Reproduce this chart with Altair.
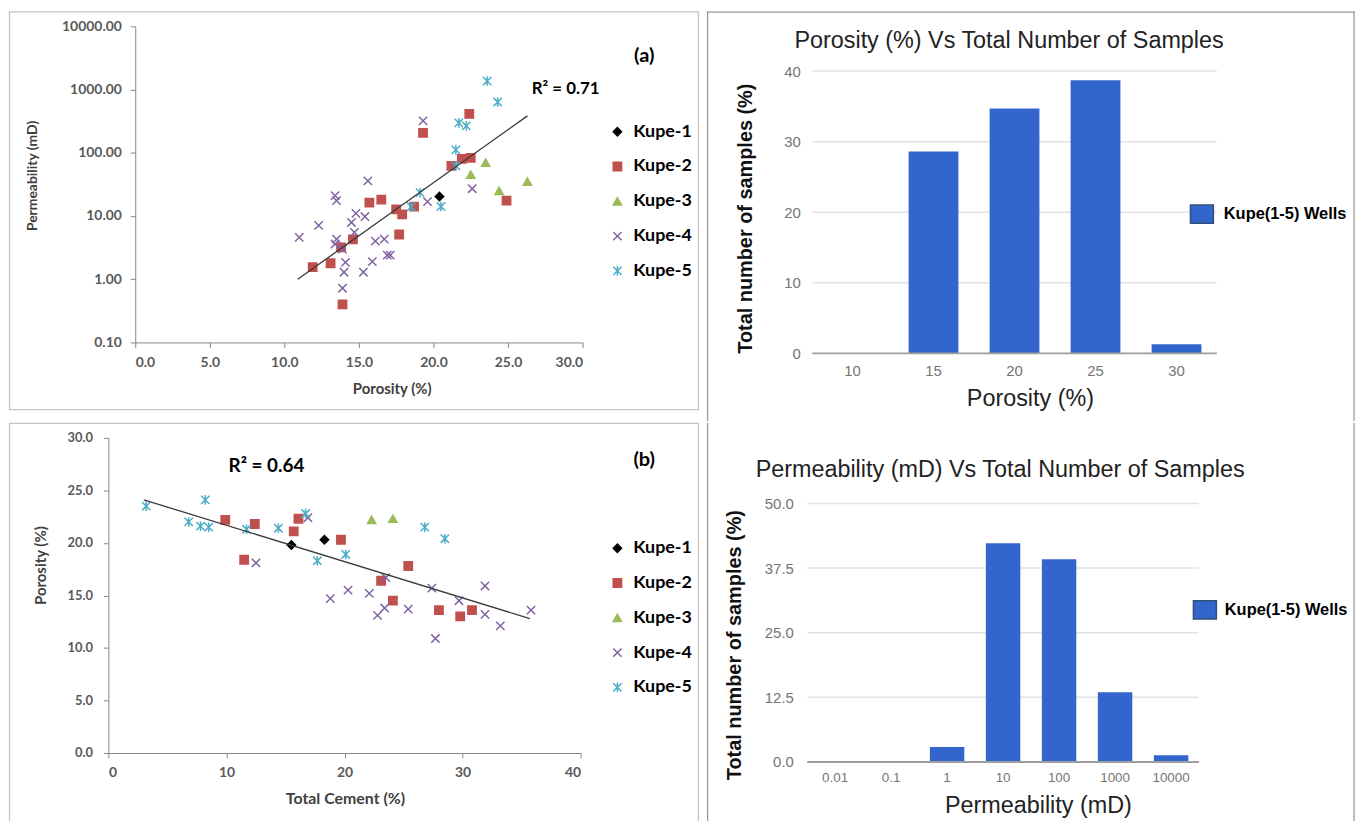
import altair as alt
import pandas as pd

# ---------------- data ----------------
WELLS = ["Kupe-1", "Kupe-2", "Kupe-3", "Kupe-4", "Kupe-5"]
WELL_COLORS = ["#000000", "#c0504d", "#9bbb59", "#8064a2", "#4bacc6"]
WELL_FILLS = ["#000000", "#c0504d", "#9bbb59", "transparent", "transparent"]
WELL_SHAPES = ["diamond", "square", "triangle-up",
               "M-1,-1L1,1M-1,1L1,-1",
               "M-1,-1L1,1M-1,1L1,-1M0,-1.15L0,1.15"]

# panel (a): porosity (%) vs permeability (mD)
A_K1_POR = [20.4]
A_K1_PERM = [20.3]
A_K2_POR = [11.9, 13.1, 13.8, 14.6, 13.9, 15.7, 16.5, 17.5, 17.9, 17.7, 18.7, 19.3, 21.2, 21.9, 22.5, 22.4, 24.9]
A_K2_PERM = [1.55, 1.79, 3.19, 4.27, 0.40, 16.3, 18.2, 12.7, 10.6, 5.1, 14.1, 206, 62, 80, 83, 411, 17.5]
A_K3_POR = [22.5, 23.5, 24.4, 26.3]
A_K3_PERM = [45, 70, 25, 35]
A_K4_POR = [11.0, 12.3, 13.4, 13.5, 13.5, 13.4, 13.9, 14.1, 14.0, 13.9, 14.5, 14.8, 15.4, 14.7, 15.6,
            15.3, 15.9, 16.1, 16.7, 16.9, 17.1, 19.3, 19.6, 22.6]
A_K4_PERM = [4.6, 7.1, 21, 17.5, 4.3, 3.6, 3.0, 1.85, 1.29, 0.72, 7.9, 11, 9.8, 5.5, 36,
             1.29, 1.9, 4.0, 4.3, 2.4, 2.4, 319, 16.9, 27]
A_K5_POR = [23.6, 24.3, 21.7, 22.2, 21.5, 21.5, 19.1, 20.5, 18.5]
A_K5_PERM = [1361, 635, 297, 266, 111, 62, 23.4, 14.1, 14]
A_TREND_POR = [10.9, 26.3]
A_TREND_PERM = [1.0, 383.0]

# panel (b): total cement (%) vs porosity (%)
B_K1_CEM = [15.5, 18.3]
B_K1_POR = [19.8, 20.3]
B_K2_CEM = [9.9, 12.4, 11.5, 15.7, 16.1, 19.7, 25.4, 23.1, 24.1, 28.0, 29.8, 30.8]
B_K2_POR = [22.2, 21.8, 18.4, 21.1, 22.3, 20.3, 17.8, 16.4, 14.5, 13.6, 13.0, 13.6]
B_K3_CEM = [22.3, 24.1]
B_K3_POR = [22.2, 22.3]
B_K4_CEM = [12.5, 16.9, 18.8, 20.3, 22.1, 22.8, 23.4, 23.5, 25.4, 27.4, 27.7, 29.7, 31.9, 31.9, 33.2, 35.8]
B_K4_POR = [18.1, 22.4, 14.7, 15.5, 15.2, 13.1, 13.8, 16.7, 13.7, 15.7, 10.9, 14.5, 15.9, 13.2, 12.1, 13.6]
B_K5_CEM = [3.2, 8.2, 6.8, 7.8, 8.5, 11.7, 14.4, 16.7, 17.7, 26.8, 28.5, 20.1]
B_K5_POR = [23.5, 24.1, 22.0, 21.6, 21.5, 21.3, 21.4, 22.8, 18.3, 21.5, 20.4, 18.9]
B_TREND_CEM = [3.0, 35.7]
B_TREND_POR = [24.1, 12.8]

# histograms
POR_BINS = ["10", "15", "20", "25", "30"]
POR_PCT = [0.0, 28.6, 34.7, 38.7, 1.3]
PERM_BINS = ["0.01", "0.1", "1", "10", "100", "1000", "10000"]
PERM_PCT = [0.0, 0.0, 2.9, 42.3, 39.2, 13.5, 1.3]
SERIES = "Kupe(1-5) Wells"


def wells_frame(xs_list, ys_list, xname, yname):
    rows = []
    for w, xs, ys in zip(WELLS, xs_list, ys_list):
        for xv, yv in zip(xs, ys):
            rows.append({"well": w, xname: xv, yname: yv})
    return pd.DataFrame(rows)


df_a = wells_frame([A_K1_POR, A_K2_POR, A_K3_POR, A_K4_POR, A_K5_POR],
                   [A_K1_PERM, A_K2_PERM, A_K3_PERM, A_K4_PERM, A_K5_PERM], "por", "perm")
df_a_trend = pd.DataFrame({"por": A_TREND_POR, "perm": A_TREND_PERM})
df_b = wells_frame([B_K1_CEM, B_K2_CEM, B_K3_CEM, B_K4_CEM, B_K5_CEM],
                   [B_K1_POR, B_K2_POR, B_K3_POR, B_K4_POR, B_K5_POR], "cem", "por")
df_b_trend = pd.DataFrame({"cem": B_TREND_CEM, "por": B_TREND_POR})
df_c = pd.DataFrame({"bin": POR_BINS, "pct": POR_PCT, "series": SERIES})
df_d = pd.DataFrame({"bin": PERM_BINS, "pct": PERM_PCT, "series": SERIES})

SC_FONT = "Lato"
BAR_FONT = "Liberation Sans"
AX_GRAY = "#868686"
LAB_GRAY = "#595959"


def frame_rule(color, x=None, x2=None, y=None, y2=None):
    enc = {}
    if x is not None:
        enc["x"] = alt.value(x)
    if x2 is not None:
        enc["x2"] = alt.value(x2)
    if y is not None:
        enc["y"] = alt.value(y)
    if y2 is not None:
        enc["y2"] = alt.value(y2)
    return alt.Chart(pd.DataFrame({"f": [0]})).mark_rule(color=color, strokeWidth=1.3).encode(**enc)


def well_legend(lx, ly):
    return alt.Legend(orient="none", legendX=lx, legendY=ly, title=None, padding=0,
                      labelFont=SC_FONT, labelFontSize=18, labelFontWeight="bold",
                      labelColor="#000000", labelOffset=7, rowPadding=17,
                      symbolSize=70, symbolStrokeWidth=1.5)


def text_layer(txt, x, y, size, font=SC_FONT, weight="bold", color="#000000"):
    return alt.Chart(pd.DataFrame({"t": [txt]})).mark_text(
        font=font, fontSize=size, fontWeight=weight, color=color,
        align="center", baseline="middle").encode(
        text="t:N", x=alt.value(x), y=alt.value(y))


def scatter_panel(df, trend, xf, yf, xscale, yscale, xaxis, yaxis, legend, extras, w, h):
    pts = alt.Chart(df).mark_point(filled=False, size=70, strokeWidth=1.5, opacity=1).encode(
        x=alt.X(f"{xf}:Q", scale=xscale, axis=xaxis),
        y=alt.Y(f"{yf}:Q", scale=yscale, axis=yaxis),
        color=alt.Color("well:N", scale=alt.Scale(domain=WELLS, range=WELL_COLORS), legend=legend),
        shape=alt.Shape("well:N", scale=alt.Scale(domain=WELLS, range=WELL_SHAPES), legend=legend),
        fill=alt.Fill("well:N", scale=alt.Scale(domain=WELLS, range=WELL_FILLS), legend=legend),
    )
    line = alt.Chart(trend).mark_line(color="#3a3a3a", strokeWidth=1.3).encode(
        x=alt.X(f"{xf}:Q", scale=xscale, axis=xaxis),
        y=alt.Y(f"{yf}:Q", scale=yscale, axis=yaxis),
    )
    return alt.layer(pts, line, *extras).properties(width=w, height=h)


def sc_axis(values, fmt, offset, title, tx, ty, lsize, lpad, tsize):
    return alt.Axis(values=values, format=fmt, offset=offset, grid=False,
                    domainColor=AX_GRAY, tickColor=AX_GRAY, tickSize=5,
                    labelFont=SC_FONT, labelFontSize=lsize, labelFontWeight="bold",
                    labelColor=LAB_GRAY, labelPadding=lpad,
                    title=title, titleFont=SC_FONT, titleFontSize=tsize, titleFontWeight="bold",
                    titleColor="#404040", titleX=tx, titleY=ty,
                    titleAlign="center", titleBaseline="middle")


LF = "#c4c4c4"   # left frames
RF = "#9a9a9a"   # right frame

# ---- panel (a): view at page (8,8), 694x401
A = scatter_panel(
    df_a, df_a_trend, "por", "perm",
    alt.Scale(domain=[0, 30], range=[127, 577], nice=False, zero=False),
    alt.Scale(type="log", domain=[0.1, 10000], range=[333, 15], nice=False),
    sc_axis([0, 5, 10, 15, 20, 25, 30], ".1f", -68, "Porosity (%)", 385, 46, 14, 8, 15),
    sc_axis([0.1, 1, 10, 100, 1000, 10000], ".2f", -127, "Permeability (mD)", -103, 165, 14, 9, 14),
    well_legend(603, 112),
    [text_layer("(a)", 639, 45, 20), text_layer("R² = 0.71", 560, 78, 17),
     frame_rule(LF, x=0.5, y=0, y2=401), frame_rule(LF, x=0, x2=694, y=0.5),
     frame_rule(LF, x=693.5, y=0, y2=401), frame_rule(LF, x=0, x2=694, y=400.5)],
    694, 401)

# ---- panel (b): view at page (8,420), 694x402
B = scatter_panel(
    df_b, df_b_trend, "cem", "por",
    alt.Scale(domain=[0, 40], range=[100, 575], nice=False, zero=False),
    alt.Scale(domain=[0, 30], range=[332, 15], nice=False),
    sc_axis([0, 10, 20, 30, 40], "d", -70, "Total Cement (%)", 338, 46, 14, 8, 16),
    sc_axis([0, 5, 10, 15, 20, 25, 30], ".1f", -100, "Porosity (%)", -68, 143, 13, 11, 15),
    well_legend(603, 117),
    [text_layer("(b)", 639, 37, 20), text_layer("R² = 0.64", 259, 43, 19),
     frame_rule(LF, x=0.5, y=0, y2=402), frame_rule(LF, x=0, x2=694, y=0.5),
     frame_rule(LF, x=693.5, y=0, y2=402)],
    694, 402)


def bar_panel(df, cats, x_range, y_domain, y_range, y_ticks, y_fmt, x_off, y_off,
              xlab_size, ylab_size, xlab_pad, ylab_pad, x_title, xtx, xty, ytx, yty,
              title, tx, ty, lx, ly, lab_off, frames, w, h):
    yscale = alt.Scale(domain=y_domain, range=y_range, nice=False, zero=True)
    yaxis = alt.Axis(values=y_ticks, format=y_fmt, offset=y_off, domain=False, ticks=False,
                     grid=False, labelFont=BAR_FONT, labelFontSize=ylab_size,
                     labelColor="#757575", labelPadding=ylab_pad,
                     title="Total number of samples (%)", titleFont=BAR_FONT,
                     titleFontSize=20, titleFontWeight="bold", titleColor="#111111",
                     titleX=ytx, titleY=yty, titleAlign="center", titleBaseline="middle")
    grid = alt.Chart(pd.DataFrame({"pct": y_ticks[1:]})).mark_rule(
        color="#e3e3e3", strokeWidth=1.5).encode(
        y=alt.Y("pct:Q", scale=yscale, axis=yaxis),
        x=alt.value(x_range[0]), x2=alt.value(x_range[1]))
    bars = alt.Chart(df).mark_bar().encode(
        x=alt.X("bin:N", sort=cats,
                scale=alt.Scale(domain=cats, range=x_range, paddingInner=0.385, paddingOuter=0.19),
                axis=alt.Axis(offset=x_off, domain=False, ticks=False, grid=False, labelAngle=0,
                              labelFont=BAR_FONT, labelFontSize=xlab_size, labelColor="#757575",
                              labelPadding=xlab_pad, title=x_title, titleFont=BAR_FONT,
                              titleFontSize=23.5, titleFontWeight="normal", titleColor="#222222",
                              titleX=xtx, titleY=xty, titleAlign="center", titleBaseline="middle")),
        y=alt.Y("pct:Q", scale=yscale, axis=yaxis),
        color=alt.Color("series:N", scale=alt.Scale(domain=[SERIES], range=["#3366cc"]),
                        legend=alt.Legend(orient="none", legendX=lx, legendY=ly, title=None,
                                          padding=0, symbolType="M-1.25,-1L1.25,-1L1.25,1L-1.25,1Z",
                                          symbolSize=340, symbolStrokeColor="#2e4f7c",
                                          symbolStrokeWidth=1.5, labelFont=BAR_FONT,
                                          labelFontSize=16.5, labelFontWeight="bold",
                                          labelColor="#000000", labelOffset=lab_off)),
    )
    base = alt.Chart(pd.DataFrame({"pct": [y_ticks[0]]})).mark_rule(
        color="#9e9e9e", strokeWidth=2).encode(
        y=alt.Y("pct:Q", scale=yscale, axis=yaxis),
        x=alt.value(x_range[0]), x2=alt.value(x_range[1]))
    ttl = text_layer(title, tx, ty, 23.5, font=BAR_FONT, weight="normal", color="#222222")
    return alt.layer(grid, bars, base, ttl, *frames).properties(width=w, height=h)


# ---- panel (c): view at page (708,8), 652x412
C = bar_panel(df_c, POR_BINS, [106, 513], [0, 40], [344, 60], [0, 10, 20, 30, 40], "d",
              -68, -106, 15, 15, 10, 12, "Porosity (%)", 325, 45, -67, 208,
              "Porosity (%) Vs Total Number of Samples", 304, 30, 488, 194, 12,
              [frame_rule(RF, x=0.75, y=0, y2=412), frame_rule(RF, x=0, x2=652, y=0.75),
               frame_rule(RF, x=651, y=0, y2=412)],
              652, 412)

# ---- panel (d): view at page (708,420), 652x402
D = bar_panel(df_d, PERM_BINS, [101, 495], [0, 50], [341, 81], [0, 12.5, 25, 37.5, 50], ".1f",
              -61, -101, 13.5, 15, 9, 14, "Permeability (mD)", 333, 44, -73, 223,
              "Permeability (mD) Vs Total Number of Samples", 295, 47, 491, 178, 10,
              [frame_rule(RF, x=0.75, y=0, y2=402), frame_rule(RF, x=651, y=0, y2=402)],
              652, 402)

RES = dict(x="independent", y="independent", color="independent",
           shape="independent", fill="independent")

left = alt.vconcat(A, B, spacing=11).resolve_scale(**RES).resolve_legend(
    color="independent", shape="independent", fill="independent")
right = alt.vconcat(C, D, spacing=0).resolve_scale(**RES).resolve_legend(color="independent")

chart = alt.hconcat(left, right, spacing=6).resolve_scale(**RES).resolve_legend(
    color="independent", shape="independent", fill="independent").properties(
    padding=0, background="white").configure_view(stroke="transparent", strokeWidth=0)

chart.save("out.html", embed_options={"renderer": "svg", "actions": False})
